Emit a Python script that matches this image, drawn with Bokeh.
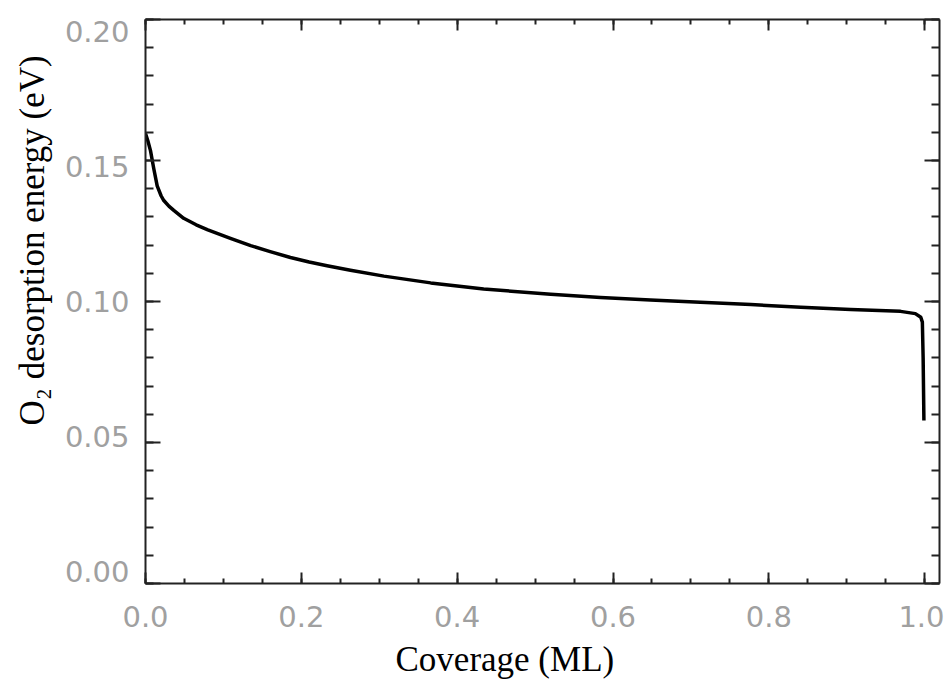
from bokeh.plotting import figure
from bokeh.models import (LinearAxis, SingleIntervalTicker, PrintfTickFormatter,
                          Range1d, Title)
from bokeh.embed import file_html
from bokeh.resources import INLINE

# Data
coverage = [0.000, 0.003, 0.0064, 0.0107, 0.015, 0.020, 0.0235, 0.030, 0.0363,
            0.049, 0.065, 0.080, 0.109, 0.135, 0.160, 0.186, 0.210, 0.233,
            0.263, 0.306, 0.366, 0.434, 0.520, 0.584, 0.648, 0.712, 0.777,
            0.841, 0.905, 0.969, 0.988, 0.995, 0.997, 0.998, 0.999]
energy = [0.1596, 0.1570, 0.1535, 0.1470, 0.1410, 0.1375, 0.1358, 0.1338, 0.1323,
          0.1295, 0.1272, 0.1254, 0.1224, 0.1198, 0.1177, 0.1156, 0.1140, 0.1127,
          0.1111, 0.1090, 0.1066, 0.1044, 0.1026, 0.1014, 0.1005, 0.0997, 0.0989,
          0.0980, 0.0972, 0.0965, 0.0957, 0.0944, 0.0927, 0.0800, 0.0578]

x_label = "Coverage (ML)"
y_label = "O\u2082 desorption energy (eV)"

p = figure(width=944, height=687, output_backend="svg", toolbar_location=None,
           x_range=Range1d(0, 1.019), y_range=Range1d(0, 0.2),
           x_axis_location=None, y_axis_location=None,
           min_border_left=145, min_border_right=5, min_border_top=19,
           min_border_bottom=104)
p.background_fill_color = "white"
p.border_fill_color = "white"
p.grid.visible = False
p.outline_line_color = None

# the reference's y tick labels sit on a slightly compressed scale
p.extra_y_ranges = {"labels": Range1d(-0.00445, 0.20463)}

tick_font = "DejaVu Sans"
tick_color = "#a0a0a0"


def make_axis(kind, ticks=True, labels=False, range_name="default"):
    if kind == "x":
        ticker = SingleIntervalTicker(interval=0.2, num_minor_ticks=4)
        fmt = PrintfTickFormatter(format="%.1f")
        maj_in, min_in = 11, 5
        ax = LinearAxis(ticker=ticker, formatter=fmt)
    else:
        ticker = SingleIntervalTicker(interval=0.05, num_minor_ticks=5)
        fmt = PrintfTickFormatter(format="%.2f")
        maj_in, min_in = 15, 8
        ax = LinearAxis(ticker=ticker, formatter=fmt, y_range_name=range_name)
    if ticks:
        ax.axis_line_color = "#222222"
        ax.axis_line_width = 2
        ax.major_tick_line_color = "#222222"
        ax.minor_tick_line_color = "#222222"
        ax.major_tick_line_width = 2
        ax.minor_tick_line_width = 2
        ax.major_tick_in = maj_in
        ax.major_tick_out = 0
        ax.minor_tick_in = min_in
        ax.minor_tick_out = 0
    else:
        ax.axis_line_color = None
        ax.major_tick_line_color = None
        ax.minor_tick_line_color = None
        ax.major_tick_in = 0
        ax.major_tick_out = 0
        ax.minor_tick_in = 0
        ax.minor_tick_out = 0
    if labels:
        ax.major_label_text_font = tick_font
        ax.major_label_text_font_size = "29px"
        ax.major_label_text_color = tick_color
        ax.major_label_standoff = 22 if kind == "x" else 16
    else:
        ax.major_label_text_font_size = "0px"
        ax.major_label_text_alpha = 0
        ax.major_label_standoff = 0
    return ax


p.add_layout(make_axis("x", ticks=True, labels=True), "below")
p.add_layout(make_axis("y", ticks=True, labels=False), "left")
p.add_layout(make_axis("y", ticks=False, labels=True, range_name="labels"), "left")
p.add_layout(make_axis("x", ticks=True, labels=False), "above")
p.add_layout(make_axis("y", ticks=True, labels=False), "right")

p.line(coverage, energy, line_color="black", line_width=3.5, line_join="round")

p.add_layout(Title(text=x_label, text_font="Liberation Serif",
                   text_font_size="35px", text_font_style="normal",
                   text_color="black", align="left", offset=250,
                   standoff=17), "below")
p.add_layout(Title(text=y_label, text_font="Liberation Serif",
                   text_font_size="35px", text_font_style="normal",
                   text_color="black", align="left", offset=158,
                   standoff=20), "left")

open("out.html", "w").write(file_html(p, INLINE))
